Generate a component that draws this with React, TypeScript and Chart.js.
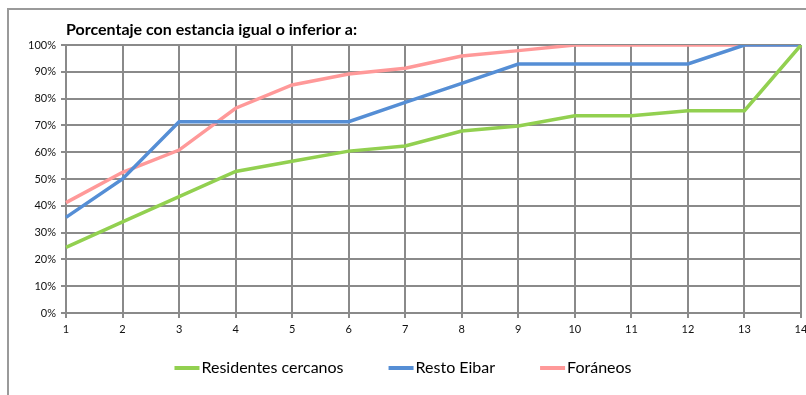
import React, { useEffect, useRef } from "react";
import { Chart, registerables } from "chart.js";

Chart.register(...registerables);

const categories = ["1", "2", "3", "4", "5", "6", "7", "8", "9", "10", "11", "12", "13", "14"];
const residentesCercanos = [24.5, 34.0, 43.4, 52.8, 56.6, 60.4, 62.3, 67.9, 69.8, 73.6, 73.6, 75.5, 75.5, 100];
const restoEibar = [35.7, 50.0, 71.4, 71.4, 71.4, 71.4, 78.6, 85.7, 92.9, 92.9, 92.9, 92.9, 100, 100];
const foraneos = [41.2, 52.5, 60.8, 76.4, 85.1, 89.2, 91.3, 95.9, 97.9, 100, 100, 100, 100, 100];
const seriesLabels = ["Residentes cercanos", "Resto Eibar", "Foráneos"];
const seriesColors = ["#92D050", "#558ED5", "#FF9999"];
const titleText = "Porcentaje con estancia igual o inferior a:";

const FONT = "Lato, 'Open Sans', sans-serif";
const GRID = "#8a8a8a";

const titlePlugin = {
  id: "leftTitle",
  afterDraw(chart: any) {
    const ctx = chart.ctx;
    ctx.save();
    ctx.font = `bold 16px ${FONT}`;
    ctx.fillStyle = "#000";
    ctx.textBaseline = "middle";
    ctx.textAlign = "left";
    ctx.fillText(titleText, chart.chartArea.left, 30);
    ctx.restore();
  },
};

const legendPlugin = {
  id: "customLegend",
  afterDraw(chart: any) {
    const ctx = chart.ctx;
    ctx.save();
    ctx.font = `16px ${FONT}`;
    const lineW = 25;
    const gapText = 2;
    const gapItem = 45;
    const items = chart.data.datasets.map((d: any) => ({
      label: d.label,
      color: d.borderColor,
      w: ctx.measureText(d.label).width,
    }));
    const total = items.reduce((s: number, it: any) => s + lineW + gapText + it.w, 0) + gapItem * (items.length - 1);
    let x = chart.width / 2 - total / 2;
    const y = 368;
    for (const it of items) {
      ctx.strokeStyle = it.color;
      ctx.lineWidth = 4;
      ctx.beginPath();
      ctx.moveTo(x, y);
      ctx.lineTo(x + lineW, y);
      ctx.stroke();
      ctx.fillStyle = "#000";
      ctx.textBaseline = "middle";
      ctx.textAlign = "left";
      ctx.fillText(it.label, x + lineW + gapText, y);
      x += lineW + gapText + it.w + gapItem;
    }
    ctx.restore();
  },
};

export default function App() {
  const ref = useRef<HTMLCanvasElement>(null);
  useEffect(() => {
    if (!ref.current) return;
    const mk = (label: string, data: number[], color: string) => ({
      label,
      data,
      borderColor: color,
      backgroundColor: color,
      borderWidth: 3.5,
      pointRadius: 0,
      tension: 0,
      fill: false,
    });
    const chart = new Chart(ref.current, {
      type: "line",
      data: {
        labels: categories,
        datasets: [
          mk(seriesLabels[0], residentesCercanos, seriesColors[0]),
          mk(seriesLabels[1], restoEibar, seriesColors[1]),
          mk(seriesLabels[2], foraneos, seriesColors[2]),
        ],
      },
      options: {
        animation: false,
        responsive: false,
        maintainAspectRatio: false,
        layout: { padding: { left: 0, top: 45, right: 5, bottom: 0 } },
        plugins: { legend: { display: false }, title: { display: false }, tooltip: { enabled: false } },
        scales: {
          x: {
            type: "category",
            offset: false,
            grid: { color: GRID, lineWidth: 2, tickLength: 5, drawTicks: true },
            border: { color: GRID, width: 2 },
            ticks: { color: "#111", font: { family: FONT, size: 11 }, padding: 5, maxRotation: 0, autoSkip: false },
            afterFit(scale: any) {
              scale.height = 82;
              scale.paddingLeft = 0;
              scale.paddingRight = 0;
            },
          },
          y: {
            min: 0,
            max: 100,
            grid: { color: GRID, lineWidth: 2, tickLength: 5, drawTicks: true },
            border: { color: GRID, width: 2 },
            ticks: {
              stepSize: 10,
              color: "#111",
              font: { family: FONT, size: 11 },
              padding: 5,
              callback: (v: any) => v + "%",
            },
            afterFit(scale: any) {
              scale.width = 66;
            },
          },
        },
      },
      plugins: [titlePlugin, legendPlugin],
    });
    return () => chart.destroy();
  }, []);
  return (
    <div style={{ position: "fixed", left: 0, top: 0, width: 806, height: 395, overflow: "hidden", background: "#fff" }}>
      <div
        style={{
          position: "absolute",
          left: 7,
          top: 8,
          width: 830,
          height: 420,
          border: "2px solid #9a9a9a",
          boxSizing: "border-box",
        }}
      />
      <canvas ref={ref} width={806} height={395} style={{ position: "absolute", left: 0, top: 0 }} />
    </div>
  );
}
